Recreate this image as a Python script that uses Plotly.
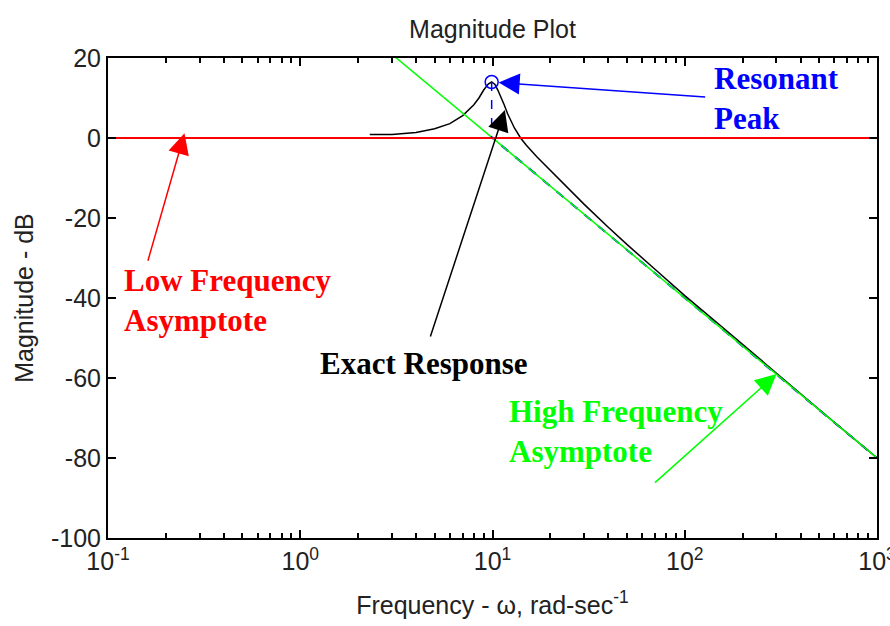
import math
import plotly.graph_objects as go

# Exact magnitude response of the second-order system (rad/s, dB)
freq_exact = [2.3, 3, 4, 5, 6, 7, 8, 8.5, 9, 9.5, 9.9, 10.3, 10.7, 11, 11.5, 12, 13, 14,
              15, 17, 20, 25, 30, 40, 50, 70, 100, 150, 200, 300, 500, 700, 1000]
mag_exact = [0.9, 0.9, 1.4, 2.3, 3.6, 5.6, 8.3, 10.0, 12.0, 13.5, 14.0, 13.4, 11.8, 10.6,
             8.3, 6.0, 2.5, 0.0, -1.8, -4.7, -8.1, -12.8, -16.6, -22.3, -26.6, -32.8,
             -39.4, -46.5, -51.7, -58.8, -67.9, -73.8, -80.0]

# Straight-line asymptotes
freq_low = [0.1, 1000]
mag_low = [0, 0]
freq_corner = [0.1, 10, 1000]
mag_corner = [0, 0, -80]
freq_high = [1, 10, 1000]
mag_high = [40, 0, -80]

# Resonant peak
peak_freq = [9.9]
peak_mag = [14.0]

# Axis ticks
x_tick_vals = [0.1, 1, 10, 100, 1000]
x_tick_text = ["10<sup>-1</sup>", "10<sup>0</sup>", "10<sup>1</sup>",
               "10<sup>2</sup>", "10<sup>3</sup>"]
x_minor_vals = [round(m * d, 6) for d in (0.1, 1, 10, 100) for m in range(2, 10)]
y_tick_vals = [20, 0, -20, -40, -60, -80, -100]
y_tick_text = ["20", "0", "-20", "-40", "-60", "-80", "-100"]

fig = go.Figure()

fig.add_trace(go.Scatter(x=freq_corner, y=mag_corner, mode="lines",
                         line=dict(color="#0000FF", width=2, dash="dash")))
fig.add_trace(go.Scatter(x=freq_exact, y=mag_exact, mode="lines",
                         line=dict(color="black", width=1.5)))
fig.add_trace(go.Scatter(x=freq_high, y=mag_high, mode="lines",
                         line=dict(color="#00FF00", width=1.5)))
fig.add_trace(go.Scatter(x=freq_low, y=mag_low, mode="lines",
                         line=dict(color="#FF0000", width=2)))
fig.add_trace(go.Scatter(x=[peak_freq[0], peak_freq[0]], y=[peak_mag[0], 0], mode="lines",
                         line=dict(color="#0000FF", width=1.5, dash="dash")))
fig.add_trace(go.Scatter(x=peak_freq, y=peak_mag, mode="markers",
                         marker=dict(symbol="circle-open", size=13,
                                     color="#0000FF", line=dict(width=1.5))))
# invisible carrier for the minor-tick axis
fig.add_trace(go.Scatter(x=freq_low, y=mag_low, xaxis="x2", mode="lines",
                         line=dict(width=0), hoverinfo="skip", opacity=0))

arrows = [
    dict(x=0.25, y=1.2, ax=-37, ay=129, color="#FF0000"),
    dict(x=11.6, y=7.0, ax=-75, ay=228, color="black"),
    dict(x=300, y=-59.0, ax=-123, ay=110, color="#00FF00"),
    dict(x=peak_freq[0], y=peak_mag[0], ax=215, ay=15, color="#0000FF", standoff=7),
]
ann_list = []
for a in arrows:
    ann_list.append(dict(
        x=math.log10(a["x"]), y=a["y"], xref="x", yref="y",
        ax=a["ax"], ay=a["ay"], axref="pixel", ayref="pixel",
        text="", showarrow=True, arrowhead=2, arrowsize=2.8, arrowwidth=1.5,
        arrowcolor=a["color"], standoff=a.get("standoff", 0)))

labels = [
    ("Resonant<br>Peak", 2.142, 10.0, "#0000FF"),
    ("Low Frequency<br>Asymptote", -0.927, -40.5, "#FF0000"),
    ("Exact Response", 0.092, -56.25, "black"),
    ("High Frequency<br>Asymptote", 1.075, -73.25, "#00FF00"),
]
for text, lx, ly, col in labels:
    ann_list.append(dict(x=lx, y=ly, xref="x", yref="y", text="<b>%s</b>" % text,
                         showarrow=False, xanchor="left", yanchor="middle", align="left",
                         font=dict(family="Liberation Serif", size=31, color=col)))

txt = dict(family="Liberation Sans", size=25, color="#222222")

fig.update_layout(
    width=890, height=626,
    margin=dict(l=108, r=13, t=58, b=88),
    paper_bgcolor="white", plot_bgcolor="white",
    showlegend=False,
    title=dict(text="Magnitude Plot", x=(108 + 877) / 2 / 890, xanchor="center",
               y=1 - 29 / 626, yanchor="middle", font=txt),
    annotations=ann_list,
    xaxis=dict(type="log", range=[-1, 3], tickmode="array", tickvals=x_tick_vals,
               ticktext=x_tick_text, showgrid=False, zeroline=False, showline=True,
               linecolor="black", linewidth=2, mirror="ticks", ticks="inside",
               ticklen=8, tickcolor="black", tickwidth=1.5, automargin=False,
               ticklabeloverflow="allow", tickfont=txt,
               title=dict(text="Frequency - ω, rad-sec<sup>-1</sup>", font=txt,
                          standoff=22)),
    xaxis2=dict(type="log", range=[-1, 3], overlaying="x", anchor="y", side="bottom",
                tickmode="array", tickvals=x_minor_vals, showticklabels=False,
                showgrid=False, zeroline=False, showline=True, linecolor="black",
                linewidth=2, mirror="ticks", automargin=False,
                ticks="inside", ticklen=5, tickcolor="black", tickwidth=1.5),
    yaxis=dict(range=[-100, 20], tickmode="array", tickvals=y_tick_vals,
               ticktext=y_tick_text, showgrid=False, zeroline=False,
               showline=True, linecolor="black", linewidth=2, mirror="ticks",
               ticks="inside", ticklen=8, tickcolor="black", tickwidth=1.5,
               tickfont=txt, automargin=False,
               title=dict(text="Magnitude - dB", font=txt, standoff=10)),
)

fig.write_html("out.html")
